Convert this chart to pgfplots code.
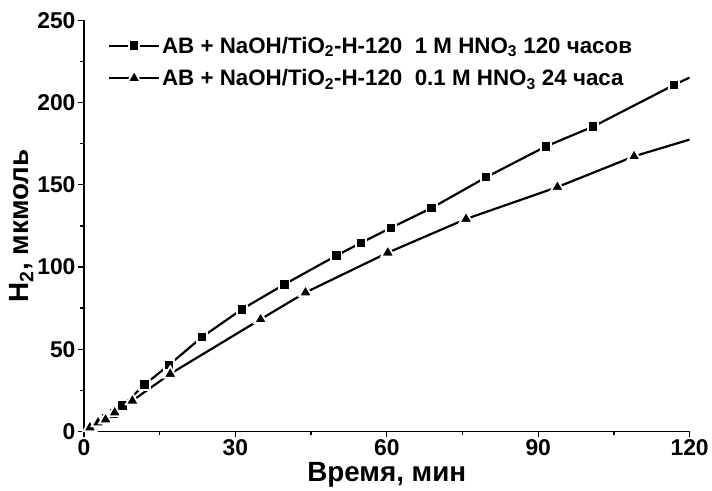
\documentclass[border=0pt]{standalone}
\usepackage{pgfplots}
\pgfplotsset{compat=1.18}
\usepackage{fontspec}
\setmainfont{Liberation Sans}
\begin{document}
\begin{tikzpicture}
\begin{axis}[
  width=610pt, height=414pt, scale only axis,
  xmin=0, xmax=120, ymin=0, ymax=250,
  axis x line*=bottom, axis y line*=left,
  axis line style={line width=1.6pt},
  xtick={0,30,60,90,120}, ytick={0,50,...,250},
  minor xtick={15,45,75,105}, minor ytick={25,75,125,175,225},
  tick align=outside,
  major tick length=6pt, minor tick length=4pt,
  tick style={line width=1.4pt, black},
  /pgf/number format/assume math mode=true,
  ticklabel style={font=\bfseries\fontsize{23}{23}\selectfont},
  xticklabel style={yshift=1pt},
  yticklabel style={xshift=1pt},
  xlabel={\bfseries Время, мин},
  ylabel={\bfseries H\textsubscript{2}, мкмоль},
  label style={font=\bfseries\fontsize{28}{28}\selectfont},
  xlabel style={yshift=1pt},
  ylabel style={yshift=-3pt},
  legend style={draw=none, fill=none, at={(0.035,0.97)}, anchor=north west,
    font=\bfseries\fontsize{22.5}{26}\selectfont, row sep=11pt,
    legend cell align=left},
  legend image code/.code={%
    \draw[#1, mark indices={2}] plot coordinates {(0pt,0pt) (25pt,0pt) (50pt,0pt)};},
]
\addplot[black, line width=2.2pt, mark=square*, mark size=5.2pt,
  mark options={fill=black, draw=white, line width=1.8pt, solid},
  mark indices={2,3,4,5,6,7,8,9,10,11,12,13,14,15,16,17,18,19}]
coordinates {
(0,0) (1.4,2.4) (3.0,5.2) (4.5,7.9) (6.0,11.0) (7.7,15.7) (12.0,28.4)
(16.9,40.5) (23.4,57.4) (31.3,74.3) (39.7,89.4) (50.0,106.9) (54.9,114.7)
(60.8,123.8) (68.9,135.9) (79.7,154.6) (91.5,173.3) (100.9,185.4)
(116.9,210.7) (120,215.2)
};
\addlegendentry{AB + NaOH/TiO\textsubscript{2}-H-120\ \ 1 M HNO\textsubscript{3} 120 часов}
\addplot[black, line width=2.2pt, mark=triangle*, mark size=7.6pt,
  mark options={fill=black, draw=white, line width=1.8pt, solid},
  mark indices={2,3,4,5,6,7,8,9,10,11,12,13}]
coordinates {
(0,0) (1.2,2.4) (2.8,5.4) (4.3,7.2) (6.1,11.5) (9.6,18.7) (17.1,35.0)
(35.0,68.2) (43.9,84.5) (60.2,108.7) (75.7,129.2) (93.8,148.6)
(109.0,167.3) (120,177.5)
};
\addlegendentry{AB + NaOH/TiO\textsubscript{2}-H-120\ \ 0.1 M HNO\textsubscript{3} 24 часа}
\end{axis}
\path (current bounding box.north) ++(0,9pt) coordinate (pad);
\path (pad) -- (pad);
\path (current bounding box.west) ++(-6pt,0) coordinate (padl);
\path (padl) -- (padl);
\end{tikzpicture}
\end{document}
